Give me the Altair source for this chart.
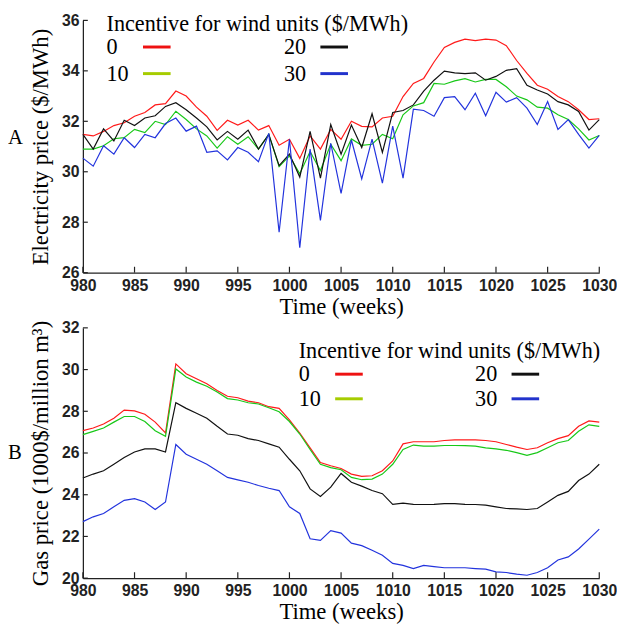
import altair as alt
import pandas as pd

weeks = list(range(980, 1031))
series_names = ["0", "10", "20", "30"]
line_colors = ["#ff1a1a", "#18c818", "#111111", "#2233dd"]
legend_colors = ["#ee1111", "#a6cc00", "#111111", "#2233cc"]
legend_title = "Incentive for wind units ($/MWh)"

elec_0 = [31.48, 31.42, 31.60, 31.83, 31.94, 32.20, 32.35, 32.65, 32.70, 33.20,
          33.00, 32.56, 32.20, 31.64, 32.04, 31.85, 32.04, 31.65, 31.83, 31.05,
          31.29, 30.53, 31.42, 30.90, 31.68, 31.29, 32.00, 31.80, 31.78, 32.13,
          32.20, 32.98, 33.50, 33.70, 34.35, 34.93, 35.13, 35.26, 35.20, 35.26,
          35.22, 35.00, 34.41, 33.90, 33.43, 33.27, 32.98, 32.78, 32.46, 32.07,
          32.10]
elec_10 = [30.90, 30.90, 31.03, 31.31, 31.35, 31.68, 31.55, 32.00, 31.87, 32.40,
           32.07, 31.70, 31.42, 30.94, 31.39, 31.09, 31.39, 30.90, 31.48, 30.20,
           30.63, 29.92, 30.80, 30.05, 31.09, 30.44, 31.30, 31.05, 31.09, 31.48,
           31.31, 32.26, 32.61, 32.74, 33.50, 33.47, 33.60, 33.69, 33.56, 33.66,
           33.66, 33.37, 33.00, 32.85, 32.56, 32.52, 32.26, 32.07, 31.70, 31.26,
           31.44]
elec_20 = [31.48, 30.90, 31.70, 31.22, 32.04, 31.83, 32.13, 32.22, 32.59, 32.74,
           32.46, 32.13, 31.78, 31.26, 31.60, 31.29, 31.65, 30.90, 31.48, 30.24,
           30.70, 29.79, 31.60, 29.75, 31.87, 30.70, 31.85, 30.96, 32.30, 30.77,
           32.35, 32.43, 32.65, 33.20, 33.63, 33.99, 33.92, 33.89, 33.92, 33.63,
           33.78, 34.02, 34.09, 33.43, 33.24, 33.08, 32.78, 32.65, 32.39, 31.65,
           32.07]
elec_30 = [30.54, 30.22, 31.03, 30.70, 31.35, 30.96, 31.48, 31.35, 31.91, 32.13,
           31.61, 31.81, 30.77, 30.83, 30.47, 30.96, 30.77, 30.40, 31.52, 27.60,
           31.29, 26.99, 30.90, 28.07, 31.13, 29.14, 31.26, 29.72, 31.29, 29.55,
           31.81, 29.75, 32.48, 32.43, 32.20, 32.94, 32.98, 32.46, 33.11, 32.22,
           33.15, 32.76, 32.94, 32.52, 31.87, 32.78, 31.68, 32.07, 31.48, 30.94,
           31.44]

gas_0 = [27.07, 27.20, 27.39, 27.67, 28.06, 28.02, 27.86, 27.48, 26.96, 30.27,
         29.80, 29.56, 29.32, 29.00, 28.72, 28.65, 28.49, 28.41, 28.22, 28.14,
         27.59, 26.96, 26.25, 25.54, 25.39, 25.26, 24.99, 24.88, 24.91, 25.15,
         25.62, 26.44, 26.54, 26.54, 26.54, 26.60, 26.63, 26.63, 26.63, 26.60,
         26.54, 26.41, 26.28, 26.17, 26.25, 26.49, 26.69, 26.83, 27.28, 27.54,
         27.48]
gas_10 = [26.88, 27.04, 27.20, 27.48, 27.75, 27.75, 27.51, 27.07, 26.80, 30.03,
          29.64, 29.40, 29.20, 28.93, 28.61, 28.54, 28.41, 28.35, 28.17, 27.98,
          27.51, 26.91, 26.17, 25.46, 25.30, 25.20, 24.83, 24.72, 24.75, 24.99,
          25.46, 26.17, 26.38, 26.33, 26.33, 26.36, 26.36, 26.35, 26.33, 26.25,
          26.20, 26.13, 26.02, 25.89, 26.02, 26.25, 26.49, 26.60, 27.04, 27.35,
          27.28]
gas_20 = [24.80, 24.99, 25.15, 25.46, 25.78, 26.05, 26.20, 26.20, 26.05, 28.41,
          28.14, 27.91, 27.67, 27.28, 26.91, 26.85, 26.69, 26.60, 26.44, 26.28,
          25.70, 25.15, 24.28, 23.92, 24.36, 25.02, 24.60, 24.41, 24.20, 24.05,
          23.54, 23.60, 23.54, 23.53, 23.54, 23.57, 23.57, 23.54, 23.53, 23.50,
          23.42, 23.34, 23.32, 23.29, 23.34, 23.65, 23.97, 24.16, 24.68, 24.99,
          25.46]
gas_30 = [22.71, 22.94, 23.10, 23.42, 23.73, 23.81, 23.65, 23.29, 23.65, 26.41,
          25.94, 25.70, 25.46, 25.15, 24.83, 24.71, 24.60, 24.44, 24.31, 24.20,
          23.42, 23.10, 21.89, 21.81, 22.28, 22.16, 21.68, 21.56, 21.34, 21.10,
          20.71, 20.61, 20.46, 20.61, 20.55, 20.50, 20.50, 20.50, 20.46, 20.43,
          20.30, 20.27, 20.19, 20.14, 20.27, 20.50, 20.87, 21.02, 21.40, 21.87,
          22.35]

x_ticks = list(range(980, 1031, 5))
elec_ticks = list(range(26, 37, 2))
gas_ticks = list(range(20, 33, 2))

SERIF = "Liberation Serif, Times New Roman, Times, DejaVu Serif, serif"
NARROW = "Liberation Sans Narrow, Arial Narrow, Liberation Sans, sans-serif"
AXC = "#222222"
W = 524


def long_df(cols):
    rows = []
    for name, vals in zip(series_names, cols):
        for wk, v in zip(weeks, vals):
            rows.append({"week": wk, "value": v, "series": name})
    return pd.DataFrame(rows)


def panel(cols, ydom, yticks, ytitle, H, letter, letter_y, leg):
    df = long_df(cols)
    x_axis = alt.Axis(values=x_ticks, format="d", ticks=False, grid=False,
                      labelFont=NARROW, labelFontSize=16, labelFontWeight="bold",
                      labelColor=AXC, labelPadding=5, labelFlush=False,
                      labelOverlap=False, domainColor=AXC, domainWidth=1.3,
                      title="Time (weeks)", titleFont=SERIF, titleFontSize=23,
                      titleFontWeight="normal", titleColor="black", titlePadding=2)
    y_axis = alt.Axis(values=yticks, format="d", ticks=False, grid=False,
                      labelFont=NARROW, labelFontSize=16, labelFontWeight="bold",
                      labelColor=AXC, labelPadding=4, labelFlush=False,
                      labelOverlap=False, domainColor=AXC, domainWidth=1.3,
                      title=ytitle, titleFont=SERIF, titleFontSize=23,
                      titleFontWeight="normal", titleColor="black", titlePadding=9)
    xs = alt.Scale(domain=[980, 1030], nice=False, zero=False)
    ys = alt.Scale(domain=ydom, nice=False, zero=False)
    lines = alt.Chart(df).mark_line(strokeWidth=1.2).encode(
        x=alt.X("week:Q", scale=xs, axis=x_axis),
        y=alt.Y("value:Q", scale=ys, axis=y_axis),
        color=alt.Color("series:N", scale=alt.Scale(domain=series_names, range=line_colors),
                        legend=None),
    )
    xt = alt.Chart(pd.DataFrame({"week": x_ticks})).mark_rule(color=AXC, strokeWidth=1.2).encode(
        x=alt.X("week:Q", scale=xs, axis=x_axis), y=alt.value(H), y2=alt.value(H - 6))
    yt = alt.Chart(pd.DataFrame({"value": yticks})).mark_rule(color=AXC, strokeWidth=1.2).encode(
        y=alt.Y("value:Q", scale=ys, axis=y_axis), x=alt.value(0), x2=alt.value(5))
    layers = [lines, xt, yt]
    layers.append(alt.Chart(pd.DataFrame({"t": [letter]})).mark_text(
        align="left", baseline="middle", font=SERIF, fontSize=21, color="black").encode(
        x=alt.value(-76), y=alt.value(letter_y), text="t:N"))
    lx, ty, r1, r2, c2 = leg
    layers.append(alt.Chart(pd.DataFrame({"t": [legend_title]})).mark_text(
        align="left", baseline="middle", font=SERIF, fontSize=22.5, color="black").encode(
        x=alt.value(lx), y=alt.value(ty), text="t:N"))
    pos = [(lx, r1), (lx, r2), (lx + c2, r1), (lx + c2, r2)]
    for (px, py), name, col in zip(pos, series_names, legend_colors):
        layers.append(alt.Chart(pd.DataFrame({"t": [name]})).mark_text(
            align="left", baseline="middle", font=SERIF, fontSize=22.5, color="black").encode(
            x=alt.value(px), y=alt.value(py), text="t:N"))
        layers.append(alt.Chart(pd.DataFrame({"t": [name]})).mark_rule(
            color=col, strokeWidth=3).encode(
            x=alt.value(px + 37), x2=alt.value(px + 65), y=alt.value(py)))
    return alt.layer(*layers).properties(width=W, height=H)


pA = panel([elec_0, elec_10, elec_20, elec_30], [26, 36], elec_ticks,
           "Electricity price ($/MWh)", 256, "A", 119, (24, 4, 27, 54, 180))
pB = panel([gas_0, gas_10, gas_20, gas_30], [20, 32], gas_ticks,
           "Gas price (1000$/million m³)", 254, "B", 127, (219, 24, 47, 72, 179))

chart = alt.vconcat(pA, pB, spacing=56, bounds="flush", padding=0).configure_view(
    stroke=None).configure_axis(grid=False)

chart.save("out.html", embed_options={"renderer": "svg", "actions": False})
